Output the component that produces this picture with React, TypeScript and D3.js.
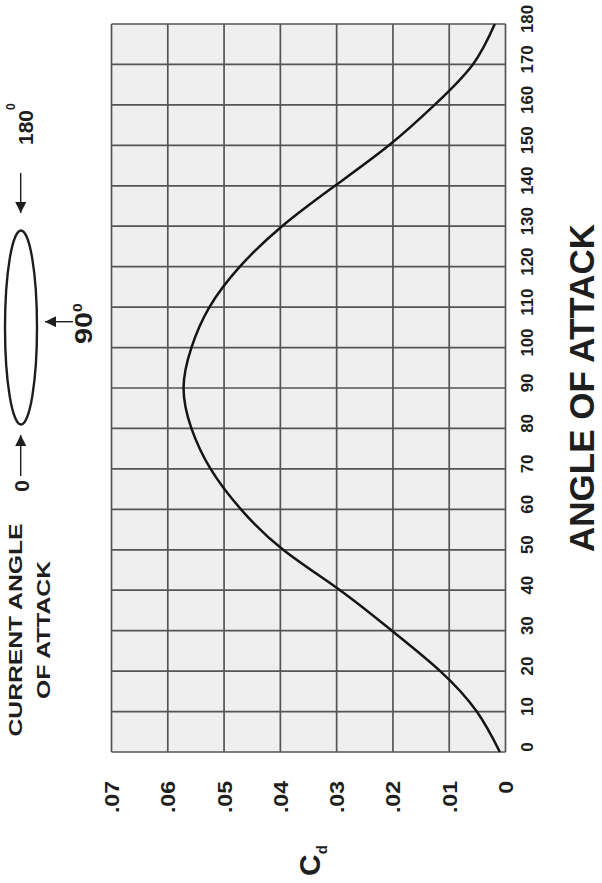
import React from "react";
import * as d3 from "d3";

const angles = [0, 10, 20, 30, 40, 50, 60, 70, 80, 90, 100, 110, 120, 130, 140, 150, 160, 170, 180];
const cdValues = [0.001, 0.0051, 0.0116, 0.0202, 0.0294, 0.0395, 0.047, 0.0524, 0.0558, 0.0572, 0.0558, 0.0526, 0.0472, 0.0397, 0.0303, 0.0207, 0.0126, 0.0058, 0.0019];
const cdTicks = [0, 0.01, 0.02, 0.03, 0.04, 0.05, 0.06, 0.07];
const cdTickLabels = ["0", ".01", ".02", ".03", ".04", ".05", ".06", ".07"];
const angleTicks = angles;

const W = 602;
const H = 883;
const FONT = "'Liberation Sans', Arial, Helvetica, sans-serif";
const INK = "#1e1e1e";

function RText({ x, y, size, anchor = "middle", sx = 1, children }: any) {
  return (
    <text
      transform={`translate(${x},${y}) rotate(-90) scale(${sx},1)`}
      fontSize={size}
      fontWeight="bold"
      fontFamily={FONT}
      textAnchor={anchor}
      fill={INK}
    >
      {children}
    </text>
  );
}

export default function App() {
  const x = d3.scaleLinear().domain([0, 0.07]).range([505.5, 111.5]);
  const y = d3.scaleLinear().domain([0, 180]).range([752, 24]);
  const pts: [number, number][] = angles.map((a, i) => [a, cdValues[i]]);
  const line = d3
    .line<[number, number]>()
    .x((d) => x(d[1]))
    .y((d) => y(d[0]))
    .curve(d3.curveNatural);

  const gridColor = "#555555";

  return (
    <svg
      width={W}
      height={H}
      viewBox={`0 0 ${W} ${H}`}
      style={{ position: "absolute", left: 0, top: 0, background: "#fff" }}
    >
      <defs>
        <marker id="ah" viewBox="0 0 10 10" refX="10" refY="5" markerWidth="12" markerHeight="11" orient="auto" markerUnits="userSpaceOnUse">
          <path d="M0,0 L10,5 L0,10 z" fill={INK} />
        </marker>
      </defs>
      <rect x={0} y={0} width={W} height={H} fill="#fff" />
      {/* plot background */}
      <rect x={x(0.07)} y={y(180)} width={x(0) - x(0.07)} height={y(0) - y(180)} fill="#efefef" />
      {/* grid */}
      {cdTicks.map((v) => (
        <line key={"v" + v} x1={x(v)} x2={x(v)} y1={y(180)} y2={y(0)} stroke={gridColor} strokeWidth={1.7} />
      ))}
      {angleTicks.map((a) => (
        <line key={"h" + a} x1={x(0.07)} x2={x(0)} y1={y(a)} y2={y(a)} stroke={gridColor} strokeWidth={1.7} />
      ))}
      {/* curve */}
      <path d={line(pts) || ""} fill="none" stroke="#151515" strokeWidth={2.5} />

      {/* angle tick labels */}
      {angleTicks.map((a) => (
        <RText key={"al" + a} x={533} y={y(a) - 5} size={16} sx={1.05}>
          {String(a)}
        </RText>
      ))}
      {/* Cd tick labels */}
      {cdTicks.map((v, i) => (
        <RText key={"cl" + v} x={x(v) + 7.5} y={781} size={21} anchor="end" sx={1.1}>
          {cdTickLabels[i]}
        </RText>
      ))}
      {/* axis titles */}
      <RText x={594} y={388} size={35}>
        ANGLE OF ATTACK
      </RText>
      <text transform={`translate(320,876) rotate(-90)`} fontSize={30} fontWeight="bold" fontFamily={FONT} fill={INK}>
        C
        <tspan fontSize={15} dy={7}>d</tspan>
      </text>

      {/* annotation */}
      <RText x={22} y={630} size={19} sx={1.3}>
        CURRENT ANGLE
      </RText>
      <RText x={50} y={630} size={19} sx={1.3}>
        OF ATTACK
      </RText>
      <RText x={29} y={486} size={21}>
        0
      </RText>
      <line x1={20.7} x2={20.7} y1={476} y2={435} stroke={INK} strokeWidth={1.4} markerEnd="url(#ah)" />
      <ellipse cx={21} cy={327.5} rx={16} ry={97} fill="none" stroke={INK} strokeWidth={2.4} />
      <line x1={20.7} x2={20.7} y1={173} y2={213} stroke={INK} strokeWidth={1.4} markerEnd="url(#ah)" />
      <text transform={`translate(33,145) rotate(-90)`} fontSize={21} fontWeight="bold" fontFamily={FONT} fill={INK}>
        180
        <tspan fontSize={12} dy={-18}>0</tspan>
      </text>
      <line x1={73} x2={45} y1={321.7} y2={321.7} stroke={INK} strokeWidth={1.4} markerEnd="url(#ah)" />
      <text transform={`translate(92,344) rotate(-90) scale(1.2,1)`} fontSize={24} fontWeight="bold" fontFamily={FONT} fill={INK}>
        90
        <tspan fontSize={13} dy={-10}>0</tspan>
      </text>
    </svg>
  );
}
